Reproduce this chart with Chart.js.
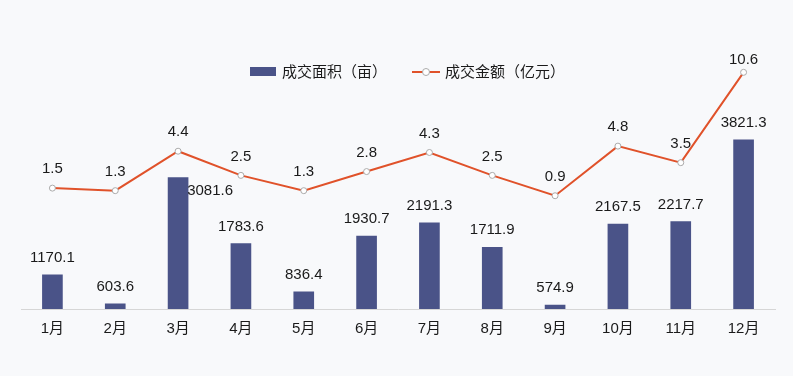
<!DOCTYPE html>
<html><head><meta charset="utf-8">
<script src="https://cdn.jsdelivr.net/npm/chart.js@4"></script>
<style>
html,body{margin:0;padding:0;background:#f8f9fb;}
#wrap{position:relative;width:793px;height:376px;background:#f8f9fb;}
canvas{position:absolute;left:0;top:0;}
.lg{position:absolute;font-family:"Noto Sans CJK SC","Liberation Sans",sans-serif;font-size:15px;color:#1a1a1a;line-height:20px;white-space:nowrap;}
</style></head>
<body>
<div id="wrap">
<canvas id="c" width="793" height="376"></canvas>
<div style="position:absolute;left:250px;top:67px;width:26px;height:9px;background:#4a5388;"></div>
<div class="lg" style="left:282px;top:61px;">成交面积（亩）</div>
<div style="position:absolute;left:412px;top:71px;width:28px;height:2px;background:#e0522a;"></div>
<div style="position:absolute;left:422px;top:68px;width:6px;height:6px;border:1px solid #aaa;border-radius:50%;background:#fff;"></div>
<div class="lg" style="left:445px;top:61px;">成交金额（亿元）</div>
</div>
<script>
const categories = ['1月','2月','3月','4月','5月','6月','7月','8月','9月','10月','11月','12月'];
const areaValues = [1170.1, 603.6, 3081.6, 1783.6, 836.4, 1930.7, 2191.3, 1711.9, 574.9, 2167.5, 2217.7, 3821.3];
const amountValues = [1.5, 1.3, 4.4, 2.5, 1.3, 2.8, 4.3, 2.5, 0.9, 4.8, 3.5, 10.6];
const seriesNames = ['成交面积（亩）','成交金额（亿元）'];

const labelPlugin = {
  id: 'valueLabels',
  afterDatasetsDraw(chart) {
    const ctx = chart.ctx;
    ctx.save();
    ctx.font = '15px "Liberation Sans", Arial, sans-serif';
    ctx.fillStyle = '#1a1a1a';
    ctx.textAlign = 'center';
    ctx.textBaseline = 'middle';
    const barMeta = chart.getDatasetMeta(0);
    barMeta.data.forEach((el, i) => {
      let x = el.x, y = el.y - 17;
      if (i === 2) { x = el.x + 32; y = el.y + 13; }
      ctx.fillText(areaValues[i].toFixed(1), x, y);
    });
    const lineMeta = chart.getDatasetMeta(1);
    lineMeta.data.forEach((el, i) => {
      let y = el.y - 19;
      if (i === 11) y = el.y - 12;
      ctx.fillText(amountValues[i].toFixed(1), el.x, y);
    });
    ctx.restore();
  }
};

new Chart(document.getElementById('c'), {
  data: {
    labels: categories,
    datasets: [
      { type: 'bar', label: seriesNames[0], data: areaValues, backgroundColor: '#4a5388', barThickness: 20, yAxisID: 'y', order: 1 },
      { type: 'line', label: seriesNames[1], data: amountValues, borderColor: '#e0522a', borderWidth: 2, pointRadius: 3, pointBackgroundColor: '#ffffff', pointBorderColor: '#aaaaaa', pointBorderWidth: 1, tension: 0, yAxisID: 'y2', order: 0 }
    ]
  },
  options: {
    responsive: false,
    animation: false,
    layout: { padding: { left: 21, right: 18, top: 54.5, bottom: 0 } },
    plugins: { legend: { display: false }, tooltip: { enabled: false } },
    scales: {
      x: {
        offset: true,
        grid: { display: false, drawTicks: false },
        border: { display: true, color: '#d6d6d6', width: 1 },
        ticks: { color: '#1a1a1a', padding: 11, font: { family: '"Liberation Sans","Noto Sans CJK SC",sans-serif', size: 15 } },
        afterFit: (s) => { s.height = 67; }
      },
      y: { display: false, min: 500, max: 5500 },
      y2: { display: false, min: -8, max: 12 }
    }
  },
  plugins: [labelPlugin]
});
</script>
</body></html>
